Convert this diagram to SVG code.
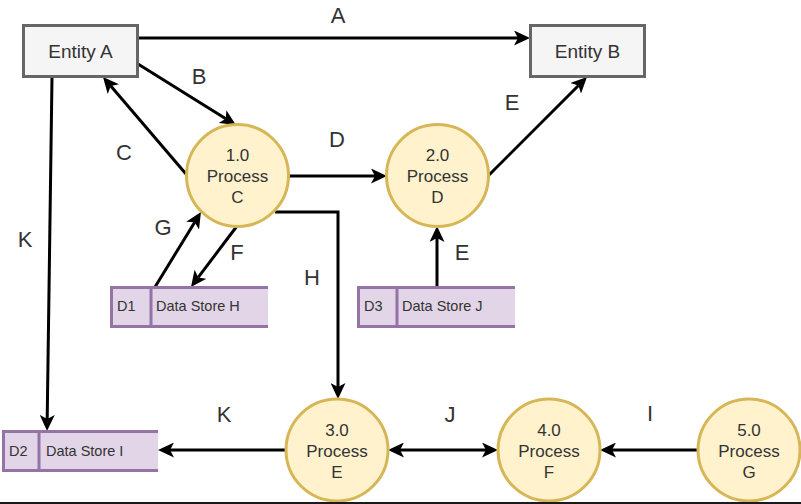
<svg xmlns="http://www.w3.org/2000/svg" width="801" height="504" viewBox="0 0 801 504">
<style>
.ent{fill:#f5f5f5;stroke:#666666;stroke-width:3}
.proc{fill:#fff2cc;stroke:#d6b656;stroke-width:3}
.ds{fill:#e1d5e7;stroke:none}
.dsl{fill:none;stroke:#9673a6;stroke-width:3}
.et{font-family:"Liberation Sans",Arial,sans-serif;font-size:19px;fill:#333;text-anchor:middle}
.pt{font-family:"Liberation Sans",Arial,sans-serif;font-size:17px;fill:#333;text-anchor:middle}
.dt{font-family:"Liberation Sans",Arial,sans-serif;font-size:14.5px;fill:#333}
.lb{font-family:"Liberation Sans",Arial,sans-serif;font-size:22px;fill:#333;text-anchor:middle}
.c{fill:none;stroke:#000;stroke-width:3;marker-end:url(#ah)}
</style>
<defs>
<marker id="ah" viewBox="0 0 16 15" refX="4" refY="7.5" markerWidth="16" markerHeight="15" markerUnits="userSpaceOnUse" orient="auto-start-reverse">
<path d="M0,0 L16,7.5 L0,15 L4,7.5 Z" fill="#000"/>
</marker>
</defs>
<rect width="801" height="504" fill="#fff"/>
<g id="connectors">
<path class="c" d="M138,38 L518,38"/>
<path class="c" d="M138,64 L225.8,118.7"/>
<path class="c" d="M186,174 L110.8,86.1"/>
<path class="c" d="M52,77 L47.2,419"/>
<path class="c" d="M288,176 L375,176"/>
<path class="c" d="M488,176 L578.5,85.5"/>
<path class="c" d="M155,287 L194.7,222.2"/>
<path class="c" d="M237,226 L198.2,277.4"/>
<path class="c" d="M275,212 L338,212 L338,387"/>
<path class="c" d="M437,287 L437,238"/>
<path class="c" d="M286,450 L170,450"/>
<path class="c" d="M400,450 L486,450" marker-start="url(#ah)"/>
<path class="c" d="M698,450 L612,450"/>
</g>
<g id="labels">
<text class="lb" x="338" y="23">A</text>
<text class="lb" x="199" y="84">B</text>
<text class="lb" x="124" y="160">C</text>
<text class="lb" x="337" y="147">D</text>
<text class="lb" x="512" y="110">E</text>
<text class="lb" x="25" y="247">K</text>
<text class="lb" x="163" y="235">G</text>
<text class="lb" x="237" y="260">F</text>
<text class="lb" x="312" y="285">H</text>
<text class="lb" x="462" y="260">E</text>
<text class="lb" x="224" y="422">K</text>
<text class="lb" x="450" y="422">J</text>
<text class="lb" x="650" y="421">I</text>
</g>
<g id="entityA">
<rect class="ent" x="23.5" y="25.5" width="114" height="51"/>
<text class="et" x="80.5" y="58">Entity A</text>
</g>
<g id="entityB">
<rect class="ent" x="530.5" y="25.5" width="114" height="51"/>
<text class="et" x="587.5" y="58">Entity B</text>
</g>
<g id="process1">
<circle class="proc" cx="237.5" cy="175.5" r="51"/>
<text class="pt" x="237.5" y="161">1.0</text>
<text class="pt" x="237.5" y="182">Process</text>
<text class="pt" x="237.5" y="203">C</text>
</g>
<g id="process2">
<circle class="proc" cx="437.5" cy="175.5" r="51"/>
<text class="pt" x="437.5" y="161">2.0</text>
<text class="pt" x="437.5" y="182">Process</text>
<text class="pt" x="437.5" y="203">D</text>
</g>
<g id="process3">
<circle class="proc" cx="337" cy="450" r="51"/>
<text class="pt" x="337" y="436">3.0</text>
<text class="pt" x="337" y="457">Process</text>
<text class="pt" x="337" y="478">E</text>
</g>
<g id="process4">
<circle class="proc" cx="549" cy="450" r="51"/>
<text class="pt" x="549" y="436">4.0</text>
<text class="pt" x="549" y="457">Process</text>
<text class="pt" x="549" y="478">F</text>
</g>
<g id="process5">
<circle class="proc" cx="749" cy="450" r="51"/>
<text class="pt" x="749" y="436">5.0</text>
<text class="pt" x="749" y="457">Process</text>
<text class="pt" x="749" y="478">G</text>
</g>
<g id="storeH">
<rect class="ds" x="110" y="287" width="158" height="40"/>
<path class="dsl" d="M268,287.5 L111.5,287.5 L111.5,326.5 L268,326.5 M151,287.5 L151,326.5"/>
<text class="dt" x="117" y="311">D1</text>
<text class="dt" x="156" y="311">Data Store H</text>
</g>
<g id="storeJ">
<rect class="ds" x="357" y="287" width="158" height="40"/>
<path class="dsl" d="M515,287.5 L358.5,287.5 L358.5,326.5 L515,326.5 M397,287.5 L397,326.5"/>
<text class="dt" x="364" y="311">D3</text>
<text class="dt" x="402" y="311">Data Store J</text>
</g>
<g id="storeI">
<rect class="ds" x="2" y="431" width="156" height="40"/>
<path class="dsl" d="M158,431.5 L3.5,431.5 L3.5,470.5 L158,470.5 M39,431.5 L39,470.5"/>
<text class="dt" x="9" y="456">D2</text>
<text class="dt" x="46" y="456">Data Store I</text>
</g>
<rect x="0" y="502" width="801" height="2" fill="#1a1a1a"/>
</svg>
